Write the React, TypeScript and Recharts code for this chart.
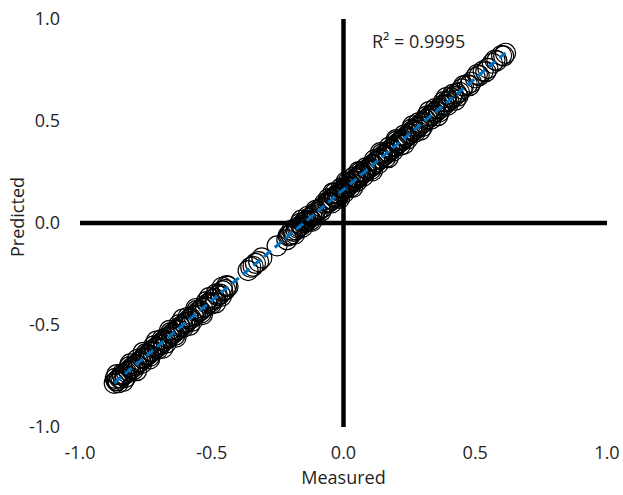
import React from 'react';
import {
  ScatterChart,
  Scatter,
  XAxis,
  YAxis,
  ReferenceLine,
  Customized,
} from 'recharts';

const measured: number[] = [
  -0.870, -0.862, -0.858, -0.850, -0.845, -0.838, -0.830, -0.824, -0.815, -0.808,
  -0.800, -0.793, -0.785, -0.778, -0.770, -0.762, -0.755, -0.748, -0.740, -0.732,
  -0.725, -0.716, -0.708, -0.700, -0.692, -0.685, -0.676, -0.668, -0.660, -0.652,
  -0.645, -0.636, -0.628, -0.620, -0.611, -0.603, -0.595, -0.586, -0.578, -0.570,
  -0.561, -0.552, -0.543, -0.535, -0.525, -0.516, -0.506, -0.497, -0.488, -0.478,
  -0.468, -0.458, -0.448, -0.438,
  -0.866, -0.854, -0.841, -0.827, -0.812, -0.797, -0.782, -0.766, -0.751, -0.736,
  -0.720, -0.704, -0.688, -0.672, -0.656, -0.640, -0.624, -0.607, -0.590, -0.574,
  -0.557, -0.539, -0.520, -0.501, -0.483, -0.463, -0.443,
  -0.860, -0.835, -0.810, -0.785, -0.760, -0.735, -0.710, -0.685, -0.660, -0.635,
  -0.610, -0.585, -0.560, -0.535, -0.510, -0.485, -0.460,
  -0.362, -0.352, -0.343, -0.334, -0.322, -0.310, -0.252,
  -0.210, -0.205, -0.200, -0.190, -0.180, -0.175, -0.170, -0.160, -0.150, -0.145,
  -0.140, -0.130, -0.120, -0.115, -0.110, -0.100, -0.090, -0.080,
  -0.215, -0.196, -0.185, -0.165, -0.155, -0.135, -0.125, -0.105, -0.085, -0.072,
  -0.160, -0.120,
  -0.060, -0.054, -0.048, -0.042, -0.036, -0.030, -0.024, -0.018, -0.012, -0.006,
  0.000, 0.006, 0.012, 0.018, 0.024, 0.030, 0.036, 0.042, 0.048, 0.054,
  0.060, 0.066, 0.072, 0.080, 0.088,
  -0.057, -0.045, -0.033, -0.021, -0.009, 0.003, 0.015, 0.027, 0.039, 0.051,
  0.063, 0.076, 0.084,
  -0.040, -0.015, 0.010, 0.035, 0.058,
  0.100, 0.107, 0.114, 0.121, 0.128, 0.135, 0.142, 0.149, 0.156, 0.163,
  0.170, 0.177, 0.184, 0.191, 0.198, 0.205, 0.212, 0.219, 0.226, 0.233,
  0.240, 0.247, 0.254, 0.261, 0.268,
  0.104, 0.118, 0.132, 0.146, 0.160, 0.174, 0.188, 0.202, 0.216, 0.230,
  0.244, 0.258, 0.272,
  0.110, 0.140, 0.170, 0.200, 0.230, 0.262,
  0.280, 0.288, 0.296, 0.304, 0.312, 0.320, 0.328, 0.336, 0.344, 0.352,
  0.360, 0.368, 0.376, 0.384, 0.392, 0.400, 0.410, 0.420, 0.430, 0.440, 0.450,
  0.284, 0.300, 0.316, 0.332, 0.348, 0.364, 0.380, 0.396, 0.415, 0.435, 0.455,
  0.292, 0.325, 0.358, 0.390, 0.425,
  0.470, 0.485, 0.500, 0.515, 0.530, 0.548, 0.565, 0.582, 0.600, 0.615,
  0.478, 0.508, 0.540, 0.575, 0.608,
];

const predicted: number[] = [
  -0.786, -0.774, -0.773, -0.760, -0.759, -0.747, -0.743, -0.732, -0.727, -0.714,
  -0.710, -0.698, -0.694, -0.682, -0.678, -0.664, -0.661, -0.649, -0.645, -0.631,
  -0.629, -0.614, -0.610, -0.597, -0.593, -0.580, -0.575, -0.562, -0.558, -0.544,
  -0.541, -0.527, -0.523, -0.509, -0.504, -0.491, -0.487, -0.472, -0.468, -0.455,
  -0.450, -0.435, -0.430, -0.417, -0.411, -0.396, -0.390, -0.375, -0.370, -0.355,
  -0.349, -0.333, -0.327, -0.311,
  -0.762, -0.783, -0.741, -0.757, -0.704, -0.719, -0.668, -0.689, -0.642, -0.655,
  -0.602, -0.618, -0.570, -0.588, -0.537, -0.551, -0.498, -0.511, -0.462, -0.481,
  -0.428, -0.440, -0.385, -0.396, -0.347, -0.359, -0.307,
  -0.743, -0.776, -0.691, -0.724, -0.634, -0.666, -0.579, -0.613, -0.526, -0.559,
  -0.471, -0.502, -0.419, -0.449, -0.366, -0.392, -0.315,
  -0.233, -0.217, -0.212, -0.198, -0.189, -0.171, -0.112,
  -0.063, -0.061, -0.056, -0.041, -0.034, -0.025, -0.019, -0.012, 0.003, 0.007,
  0.010, 0.024, 0.031, 0.037, 0.046, 0.053, 0.068, 0.075,
  -0.082, -0.035, -0.054, -0.002, -0.020, 0.033, 0.014, 0.062, 0.058, 0.096,
  0.014, 0.008,
  0.100, 0.103, 0.114, 0.116, 0.127, 0.129, 0.140, 0.142, 0.153, 0.155,
  0.166, 0.168, 0.179, 0.181, 0.192, 0.195, 0.205, 0.208, 0.218, 0.221,
  0.231, 0.234, 0.244, 0.249, 0.262,
  0.120, 0.098, 0.147, 0.125, 0.171, 0.149, 0.196, 0.176, 0.225, 0.204,
  0.248, 0.230, 0.270,
  0.148, 0.120, 0.202, 0.174, 0.252,
  0.271, 0.283, 0.286, 0.298, 0.301, 0.313, 0.317, 0.329, 0.332, 0.344,
  0.347, 0.359, 0.362, 0.375, 0.378, 0.390, 0.393, 0.405, 0.408, 0.420,
  0.423, 0.436, 0.439, 0.451, 0.454,
  0.262, 0.310, 0.290, 0.339, 0.321, 0.372, 0.353, 0.401, 0.381, 0.431,
  0.413, 0.460, 0.445,
  0.256, 0.345, 0.320, 0.409, 0.387, 0.476,
  0.471, 0.476, 0.489, 0.493, 0.506, 0.511, 0.524, 0.528, 0.541, 0.546,
  0.559, 0.563, 0.576, 0.580, 0.594, 0.598, 0.613, 0.620, 0.635, 0.641, 0.657,
  0.491, 0.473, 0.524, 0.509, 0.561, 0.545, 0.595, 0.578, 0.631, 0.622, 0.672,
  0.455, 0.546, 0.526, 0.615, 0.602,
  0.679, 0.690, 0.712, 0.722, 0.745, 0.758, 0.783, 0.795, 0.821, 0.832,
  0.673, 0.728, 0.742, 0.799, 0.819,
];

const xTicks: number[] = [-1, -0.5, 0, 0.5, 1];
const yTicks: number[] = [-1, -0.5, 0, 0.5, 1];
const xTitle = 'Measured';
const yTitle = 'Predicted';
const r2Label = 'R² = 0.9995';

const FONT = "'Open Sans', sans-serif";
const FS = 18;
const TEXT = '#1f1f1f';

const points = measured.map((m, i) => ({ x: m, y: predicted[i] }));

// least-squares trendline computed from the data
const n = measured.length;
const mx = measured.reduce((a, b) => a + b, 0) / n;
const my = predicted.reduce((a, b) => a + b, 0) / n;
let sxy = 0;
let sxx = 0;
for (let i = 0; i < n; i++) {
  sxy += (measured[i] - mx) * (predicted[i] - my);
  sxx += (measured[i] - mx) * (measured[i] - mx);
}
const slope = sxy / sxx;
const intercept = my - slope * mx;
const xMin = Math.min(...measured);
const xMax = Math.max(...measured);
const trend = [
  { x: xMin, y: intercept + slope * xMin },
  { x: xMax, y: intercept + slope * xMax },
];

const OpenCircle = (props: any) => {
  const { cx, cy } = props;
  if (cx == null || cy == null) return null;
  return <circle cx={cx} cy={cy} r={10} fill="none" stroke="#000" strokeWidth={1.2} />;
};

const NoDot = () => null;

const YTitle = (props: any) => {
  const vb = props.viewBox || {};
  const cx = 17;
  const cy = (vb.y ?? 19) + (vb.height ?? 408) / 2 - 6;
  return (
    <text
      x={cx}
      y={cy}
      transform={`rotate(-90 ${cx} ${cy})`}
      textAnchor="middle"
      dominantBaseline="central"
      fontFamily={FONT}
      fontSize={FS}
      fill={TEXT}
    >
      {yTitle}
    </text>
  );
};

const R2 = () => (
  <text x={372} y={48} fontFamily={FONT} fontSize={FS} fill={TEXT}>
    {r2Label}
  </text>
);

export default function App() {
  return (
    <div style={{ position: 'absolute', left: 0, top: 0, background: '#fff' }}>
      <ScatterChart
        width={623}
        height={495}
        margin={{ top: 19, right: 16, bottom: 0, left: 0 }}
      >
        <XAxis
          type="number"
          dataKey="x"
          domain={[-1, 1]}
          ticks={xTicks}
          tickFormatter={(v: number) => v.toFixed(1)}
          axisLine={false}
          tickLine={false}
          tickSize={0}
          tickMargin={19}
          height={68}
          tick={{ fontFamily: FONT, fontSize: FS, fill: TEXT }}
          allowDataOverflow
          label={{
            value: xTitle,
            position: 'insideBottom',
            offset: 11,
            fontFamily: FONT,
            fontSize: FS,
            fill: TEXT,
          }}
        />
        <YAxis
          type="number"
          dataKey="y"
          domain={[-1, 1]}
          ticks={yTicks}
          tickFormatter={(v: number) => v.toFixed(1)}
          axisLine={false}
          tickLine={false}
          tickSize={0}
          tickMargin={20}
          width={80}
          tick={{ fontFamily: FONT, fontSize: FS, fill: TEXT }}
          allowDataOverflow
          label={<YTitle />}
        />
        <ReferenceLine x={0} stroke="#000" strokeWidth={4.5} />
        <ReferenceLine y={0} stroke="#000" strokeWidth={4.5} />
        <Scatter
          data={points}
          shape={OpenCircle}
          isAnimationActive={false}
        />
        <Scatter
          data={trend}
          shape={NoDot}
          line={{ stroke: '#0070C0', strokeWidth: 3, strokeDasharray: '9 5' }}
          isAnimationActive={false}
        />
        <Customized component={R2} />
      </ScatterChart>
    </div>
  );
}
